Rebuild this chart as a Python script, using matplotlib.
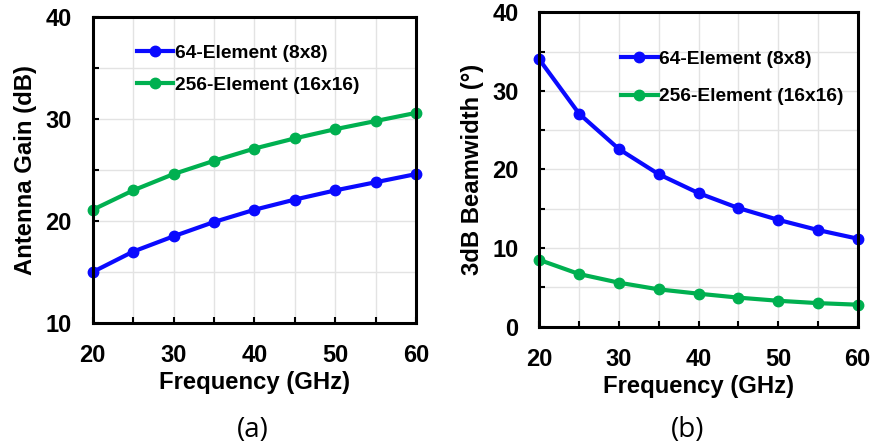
import numpy as np
import matplotlib
matplotlib.use("Agg")
import matplotlib.pyplot as plt
from matplotlib.ticker import MultipleLocator

freq = [20, 25, 30, 35, 40, 45, 50, 55, 60]
gain_64 = [15.0, 17.0, 18.5, 19.9, 21.1, 22.1, 23.0, 23.8, 24.6]
gain_256 = [21.1, 23.0, 24.6, 25.9, 27.1, 28.1, 29.0, 29.8, 30.6]
bw_64 = [34.0, 27.1, 22.6, 19.4, 17.0, 15.1, 13.6, 12.3, 11.2]
bw_256 = [8.5, 6.7, 5.6, 4.75, 4.2, 3.7, 3.3, 3.0, 2.8]
labels = ["64-Element (8x8)", "256-Element (16x16)"]

blue = "#0a0aff"
green = "#00b050"

plt.rcParams['font.family'] = ['Liberation Sans', 'DejaVu Sans']

fig = plt.figure(figsize=(8.72, 4.48), dpi=100)
W, H = 872, 448


def make_axes(x0, y0, x1, y1):
    # pixel box -> figure fraction
    return fig.add_axes([x0 / W, 1 - y1 / H, (x1 - x0) / W, (y1 - y0) / H])


def style(ax, ylim, ylabel):
    ax.set_xlim(20, 60)
    ax.set_ylim(*ylim)
    ax.xaxis.set_major_locator(MultipleLocator(10))
    ax.yaxis.set_major_locator(MultipleLocator(10))
    ax.xaxis.set_minor_locator(MultipleLocator(5))
    ax.yaxis.set_minor_locator(MultipleLocator(5))
    ax.grid(True, which='both', color='#e3e3e3', linewidth=1.0)
    ax.set_axisbelow(True)
    for s in ax.spines.values():
        s.set_linewidth(2.2)
        s.set_color('black')
    ax.tick_params(which='both', direction='in', length=4, width=1.5,
                   labelsize=17, pad=15)
    for lab in ax.get_xticklabels() + ax.get_yticklabels():
        lab.set_fontweight('bold')
    ax.set_xlabel("Frequency (GHz)", fontsize=17.2, fontweight='bold', labelpad=3)
    ax.set_ylabel(ylabel, fontsize=17.2, fontweight='bold', labelpad=6)


def add_legend(ax, anchor, spacing):
    ax.legend(loc='upper left', bbox_to_anchor=anchor, frameon=False,
              borderpad=0, borderaxespad=0, handlelength=1.9, handletextpad=0.1,
              labelspacing=spacing, prop={'weight': 'bold', 'size': 13.8})


ax1 = make_axes(92.7, 17, 416, 323)
ax1.plot(freq, gain_64, color=blue, lw=3, marker='o', ms=7.5, label=labels[0], clip_on=False)
ax1.plot(freq, gain_256, color=green, lw=3, marker='o', ms=7.5, label=labels[1], clip_on=False)
style(ax1, (10, 40), "Antenna Gain (dB)")
add_legend(ax1, (0.137, 0.910), 0.77)

ax2 = make_axes(539.3, 12.3, 857.7, 326.7)
ax2.plot(freq, bw_64, color=blue, lw=3, marker='o', ms=7.5, label=labels[0], clip_on=False)
ax2.plot(freq, bw_256, color=green, lw=3, marker='o', ms=7.5, label=labels[1], clip_on=False)
style(ax2, (0, 40), "3dB Beamwidth (°)")
add_legend(ax2, (0.257, 0.878), 1.03)

fig.text(253 / W, 1 - 430 / H, "(a)", ha='center', va='center', fontsize=20,
         family=['Open Sans', 'DejaVu Sans'])
fig.text(688 / W, 1 - 430 / H, "(b)", ha='center', va='center', fontsize=20,
         family=['Open Sans', 'DejaVu Sans'])

fig.savefig("out.png", dpi=100)
